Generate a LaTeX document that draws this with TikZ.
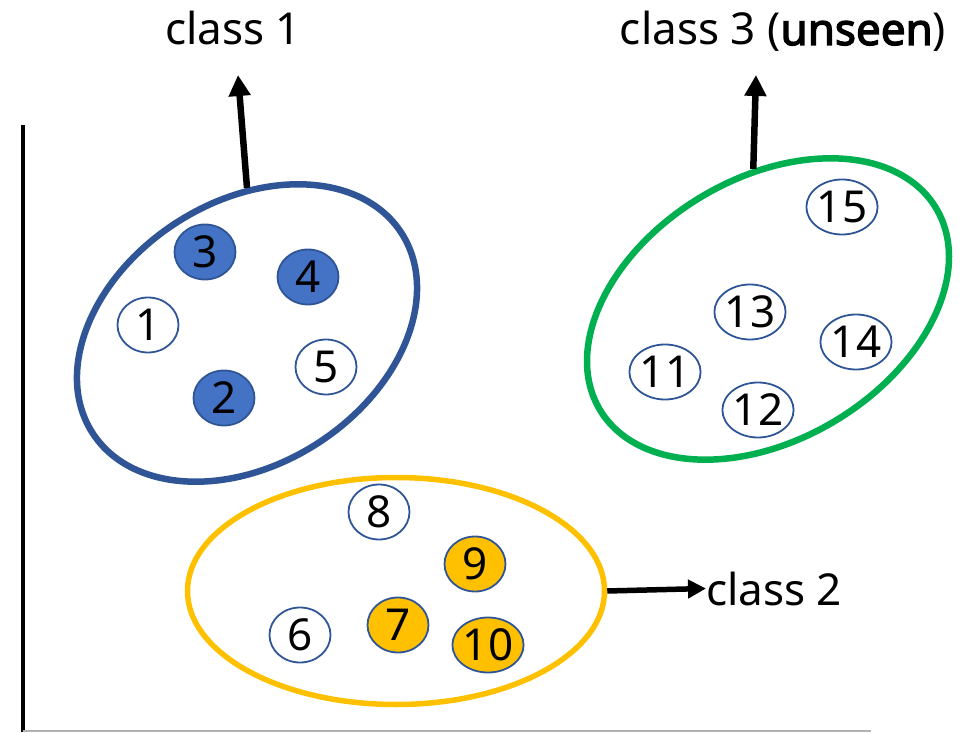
\documentclass[tikz,border=0pt]{standalone}
\usepackage{fontspec}
\setmainfont{Noto Sans}[AutoFakeBold=3]
\usetikzlibrary{arrows.meta,shapes.geometric,positioning}

\definecolor{clsblue}{HTML}{2F5597}
\definecolor{clsfill}{HTML}{4472C4}
\definecolor{clsgreen}{HTML}{00B050}
\definecolor{clsyellow}{HTML}{FFC000}
\definecolor{ringblue}{HTML}{2F5597}

\begin{document}
\begin{tikzpicture}
        [
            x=1pt, y=1pt,
            sample/.style = {
                ellipse,
                draw=ringblue,
                line width=1.8pt,
                fill=white,
                minimum width=61pt,
                minimum height=55pt,
                inner sep=0pt,
                font=\fontsize{44}{44}\selectfont
            },
            blob/.style = {
                ellipse,
                line width=6.5pt,
                inner sep=0pt
            },
            lab/.style = {
                inner sep=0pt,
                font=\fontsize{44}{44}\selectfont
            },
            arr/.style = {
                draw,
                line width=6.5pt,
                -{Triangle[length=21pt,width=21pt]}
            }
        ]
        \useasboundingbox (0,0) rectangle (972,732);

        % axes
        \draw[line width=4pt] (23,0) -- (23,607);
        \draw[gray!60, line width=2pt] (23,1) -- (871,1);

        % clusters
        \node[blob,draw=clsblue,minimum width=368pt,minimum height=262pt,rotate=33] (blob1) at (247,399) {};
        \node[blob,draw=clsyellow,line width=5.5pt,minimum width=417pt,minimum height=227pt] (blob2) at (396,141) {};
        \node[blob,draw=clsgreen,minimum width=392pt,minimum height=261pt,rotate=31] (blob3) at (768,423) {};

        % class 1
        \node[sample] (s1) at (148,407) {1};
        \node[sample,fill=clsfill] (s2) at (224,334) {2};
        \node[sample,fill=clsfill] (s3) at (205,480) {3};
        \node[sample,fill=clsfill] (s4) at (308,455) {4};
        \node[sample] (s5) at (326,365) {5};

        % class 2
        \node[sample] (s6) at (300,97) {6};
        \node[sample,fill=clsyellow] (s7) at (398,107) {7};
        \node[sample] (s8) at (379,220) {8};
        \node[sample,fill=clsyellow] (s9) at (475,168) {9};
        \node[sample,fill=clsyellow] (s10) at (488,87) {10};

        % class 3
        \node[sample] (s11) at (665,360) {11};
        \node[sample] (s12) at (758,322) {12};
        \node[sample] (s13) at (750,420) {13};
        \node[sample] (s14) at (856,390) {14};
        \node[sample] (s15) at (842,525) {15};

        % labels
        \node[lab,anchor=base] (lab1) at (233,687) {class 1};
        \node[lab,anchor=base west] (lab2) at (706,127) {class 2};
        \node[lab,anchor=base] (lab3) at (783,687) {class 3 (\textbf{unseen})};

        \coordinate (tip1) at (238,657);
        \coordinate (tip3) at (756,657);

        \path[arr] (blob1.57) -- (tip1);
        \path[arr] (blob3.65) -- (tip3);
        \path[arr,line width=5.5pt,-{Triangle[length=18pt,width=18pt]}] (blob2.east) -- (lab2.west);
    \end{tikzpicture}
\end{document}
